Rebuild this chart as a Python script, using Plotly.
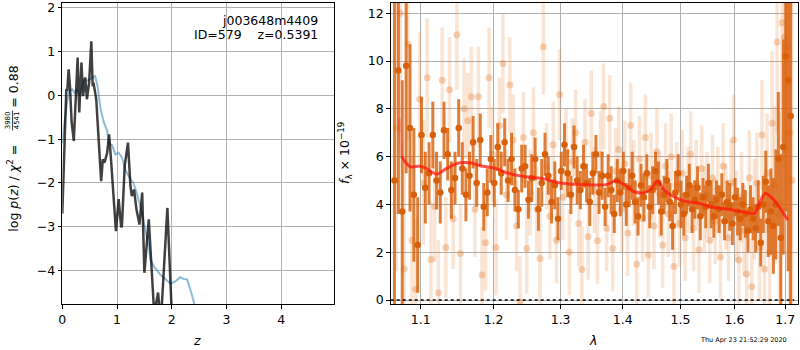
import plotly.graph_objects as go

# ---------------- Left panel: log p(z) ----------------
pz_z = [0.00, 0.02, 0.05, 0.073, 0.09, 0.116, 0.14, 0.17, 0.21, 0.24, 0.26, 0.28, 0.31, 0.35,
        0.38, 0.42, 0.45, 0.49, 0.53, 0.555, 0.57, 0.62, 0.665, 0.71, 0.74, 0.77, 0.82, 0.855,
        0.89, 0.94, 0.98, 1.03, 1.075, 1.09, 1.14, 1.20, 1.245, 1.27, 1.31, 1.355, 1.41, 1.46,
        1.50, 1.58, 1.64, 1.68, 1.75, 1.80, 1.92, 1.98, 2.05, 2.20]
pz_logp = [-2.7, -1.8, -0.3, 0.14, 0.10, 0.59, 0.20, -0.60, -1.04, -0.40, 0.30, 0.86, -0.39, 0.75,
           -0.02, 0.41, -0.09, 0.29, 1.23, 0.21, 0.29, -0.09, -1.08, -1.96, -1.46, -1.54, -1.31, -0.89,
           -1.46, -2.45, -3.10, -2.37, -3.01, -2.98, -1.61, -1.08, -2.07, -2.30, -2.15, -2.60, -2.95, -2.22,
           -4.05, -2.83, -4.35, -5.0, -4.5, -5.2, -2.57, -5.0, -6.5, -8.0]

pz_z_smooth = [0.0, 0.024, 0.085, 0.13, 0.18, 0.23, 0.27, 0.33, 0.39, 0.45, 0.51, 0.57, 0.60, 0.645,
               0.70, 0.76, 0.82, 0.855, 0.91, 0.97, 1.03, 1.09, 1.15, 1.245, 1.30, 1.34, 1.43, 1.52,
               1.58, 1.61, 1.67, 1.79, 1.92, 1.98, 2.07, 2.15, 2.22, 2.28, 2.34, 2.40, 2.50, 2.70]
pz_logp_smooth = [-1.1, -0.78, -0.17, 0.10, 0.14, 0.05, 0.14, -0.02, 0.36, 0.33, 0.37, 0.42, 0.44, 0.20,
                  -0.32, -0.62, -0.81, -1.10, -1.14, -1.35, -1.31, -1.42, -1.69, -1.92, -2.00, -2.15, -2.55, -3.10,
                  -3.44, -3.74, -3.90, -4.09, -4.24, -4.30, -4.24, -4.15, -4.19, -4.20, -4.43, -4.70, -5.30, -6.50]

left_xticks = [0, 1, 2, 3, 4]
left_yticks = [-4, -3, -2, -1, 0, 1, 2]

# ---------------- Right panel: spectrum ----------------
dark_lam = [1.066, 1.071, 1.076, 1.081, 1.086, 1.091, 1.096, 1.101, 1.106, 1.111,
            1.116, 1.121, 1.126, 1.131, 1.136, 1.141, 1.146, 1.151, 1.156, 1.161,
            1.166, 1.171, 1.176, 1.181, 1.186, 1.191, 1.196, 1.201, 1.206, 1.211,
            1.216, 1.221, 1.226, 1.231, 1.236, 1.241, 1.246, 1.251, 1.256, 1.261,
            1.266, 1.271, 1.276, 1.281, 1.286, 1.291, 1.296, 1.301, 1.306, 1.311,
            1.316, 1.321, 1.326, 1.331, 1.336, 1.341, 1.346, 1.351, 1.356, 1.361,
            1.366, 1.371, 1.376, 1.381, 1.386, 1.391, 1.396, 1.401, 1.406, 1.411,
            1.416, 1.421, 1.426, 1.431, 1.436, 1.441, 1.446, 1.451, 1.456, 1.461,
            1.466, 1.471, 1.476, 1.481, 1.486, 1.491, 1.496, 1.501, 1.506, 1.511,
            1.516, 1.521, 1.526, 1.531, 1.536, 1.541, 1.546, 1.551, 1.556, 1.561,
            1.566, 1.571, 1.576, 1.581, 1.586, 1.591, 1.596, 1.601, 1.606, 1.611,
            1.616, 1.621, 1.626, 1.631, 1.636, 1.641, 1.646, 1.651, 1.656, 1.661,
            1.666, 1.671, 1.676, 1.681, 1.686, 1.691, 1.696, 1.701, 1.706, 1.711]
dark_flux = [5.0, 9.6, 3.7, 9.8, 7.2, 4.4, 2.3, 6.9, 4.7, 5.3,
             6.9, 5.0, 4.5, 7.1, 6.1, 4.6, 5.1, 7.2, 5.5, 4.4,
             5.2, 6.6, 4.9, 6.7, 3.9, 4.5, 5.9, 4.9, 6.4, 5.3,
             6.6, 5.0, 5.9, 4.6, 3.8, 5.5, 5.6, 4.2, 5.1, 5.9,
             3.8, 4.9, 6.1, 5.2, 4.1, 4.8, 3.4, 5.4, 6.5, 5.3,
             4.4, 6.4, 5.0, 4.6, 5.6, 4.9, 4.1, 5.3, 6.1, 4.5,
             5.2, 3.9, 5.2, 4.6, 3.6, 5.0, 4.5, 5.4, 4.0, 4.7,
             5.2, 4.1, 3.5, 4.8, 4.3, 5.3, 3.9, 4.6, 5.4, 4.9,
             3.7, 4.4, 5.0, 4.1, 3.1, 4.5, 5.3, 4.0, 3.6, 4.4,
             4.8, 3.8, 4.2, 4.7, 3.5, 4.3, 3.9, 4.9, 4.0, 3.5,
             4.2, 3.8, 4.4, 3.3, 4.1, 3.9, 3.2, 4.3, 3.7, 3.4,
             4.0, 3.6, 2.9, 3.8, 3.4, 3.0, 3.9, 2.4, 4.0, 4.95,
             3.3, 3.7, 3.1, 4.0, 5.9, 2.6, 6.4, 10.2, 9.2, 7.7]
dark_err = [7.5, 6.0, 5.5, 4.5, 3.5, 2.8, 2.0, 1.6, 1.5, 1.3,
            1.4, 1.2, 1.3, 1.2, 1.1, 1.2, 1.1, 1.2, 1.1, 1.1,
            1.0, 1.1, 1.0, 1.1, 1.0, 1.0, 1.0, 1.0, 1.0, 0.9,
            1.0, 0.9, 1.1, 0.9, 0.8, 1.0, 0.9, 0.8, 1.0, 0.9,
            0.9, 1.0, 0.9, 0.8, 0.9, 1.0, 0.9, 0.8, 0.9, 1.0,
            0.8, 0.9, 1.0, 0.8, 0.9, 0.8, 1.0, 0.9, 0.8, 0.9,
            1.0, 0.8, 0.9, 1.0, 0.8, 0.9, 1.0, 0.8, 0.9, 0.8,
            1.0, 0.9, 0.8, 0.9, 1.0, 0.8, 0.9, 1.0, 0.8, 0.9,
            1.0, 0.8, 0.9, 0.8, 1.0, 0.9, 0.8, 1.0, 0.9, 0.8,
            0.9, 1.0, 0.8, 0.9, 1.0, 0.8, 0.9, 0.8, 1.0, 0.9,
            0.8, 1.0, 0.9, 0.8, 0.9, 1.0, 0.9, 0.8, 1.0, 0.9,
            0.9, 1.0, 0.9, 1.0, 0.9, 1.0, 1.1, 1.0, 1.2, 1.3,
            1.5, 1.8, 2.0, 2.3, 2.8, 3.5, 4.5, 6.5, 8.0, 9.5]

light_lam = [1.0685, 1.0735, 1.0785, 1.0835, 1.0885, 1.0935, 1.0985, 1.1035, 1.1085, 1.1135,
             1.1185, 1.1235, 1.1285, 1.1335, 1.1385, 1.1435, 1.1485, 1.1535, 1.1585, 1.1635,
             1.1685, 1.1735, 1.1785, 1.1835, 1.1885, 1.1935, 1.1985, 1.2035, 1.2085, 1.2135,
             1.2185, 1.2235, 1.2285, 1.2335, 1.2385, 1.2435, 1.2485, 1.2535, 1.2585, 1.2635,
             1.2685, 1.2735, 1.2785, 1.2835, 1.2885, 1.2935, 1.2985, 1.3035, 1.3085, 1.3135,
             1.3185, 1.3235, 1.3285, 1.3335, 1.3385, 1.3435, 1.3485, 1.3535, 1.3585, 1.3635,
             1.3685, 1.3735, 1.3785, 1.3835, 1.3885, 1.3935, 1.3985, 1.4035, 1.4085, 1.4135,
             1.4185, 1.4235, 1.4285, 1.4335, 1.4385, 1.4435, 1.4485, 1.4535, 1.4585, 1.4635,
             1.4685, 1.4735, 1.4785, 1.4835, 1.4885, 1.4935, 1.4985, 1.5035, 1.5085, 1.5135,
             1.5185, 1.5235, 1.5285, 1.5335, 1.5385, 1.5435, 1.5485, 1.5535, 1.5585, 1.5635,
             1.5685, 1.5735, 1.5785, 1.5835, 1.5885, 1.5935, 1.5985, 1.6035, 1.6085, 1.6135,
             1.6185, 1.6235, 1.6285, 1.6335, 1.6385, 1.6435, 1.6485, 1.6535, 1.6585, 1.6635,
             1.6685, 1.6735, 1.6785, 1.6835, 1.6885, 1.6935, 1.6985, 1.7035, 1.7085, 1.7135]
light_flux = [7.2, 12.0, 1.3, 10.7, 2.5, 0.45, 8.4, 4.9, 9.3, 1.7,
              3.9, 0.3, 9.2, 2.2, 8.8, 3.4, 11.1, 1.95, 8.0, 7.5,
              8.5, 3.8, 8.5, 1.05, 2.4, 9.3, 6.1, 2.2, 7.3, 9.9,
              4.4, 9.0, 6.7, 3.1, -0.07, 6.8, 2.16, 4.5, 7.0, 3.8,
              1.74, 10.6, 5.6, 3.5, 6.5, 2.5, 8.6, 4.3, 6.2, 2.0,
              5.8, 7.0, 3.2, 1.28, 6.6, 2.65, 7.8, 4.6, 2.48, 6.1,
              8.1, 3.0, 7.6, 2.16, 5.4, 6.3, 3.8, 5.7, 2.8, 7.3,
              4.9, 1.5, 5.9, 3.4, 6.8, 1.88, 5.2, 3.1, 6.2, 4.4,
              2.3, 5.6, 3.6, 6.0, 1.4, 4.8, 3.2, 5.3, 2.6, 4.6,
              6.1, 3.0, 4.9, 2.1, 5.5, 3.8, 4.4, 2.5, 5.1, 3.3,
              4.6, 1.8, 5.6, 3.9, 2.6, 4.9, 6.69, 3.5, 1.67, 4.3,
              2.9, 1.09, 5.1, 0.56, 3.8, 4.9, 2.2, 6.9, 1.3, 5.3,
              2.0, 7.4, 4.8, 10.8, 3.6, 11.6, 11.0, 10.6, 7.0, 5.0]
light_err = [6.0, 5.0, 4.5, 4.0, 3.5, 3.0, 2.8, 2.6, 2.5, 2.4,
             2.3, 2.2, 2.2, 2.1, 2.2, 2.1, 2.3, 2.1, 2.1, 2.0,
             2.1, 2.0, 2.1, 2.0, 2.0, 2.1, 2.0, 2.0, 2.0, 2.1,
             1.9, 2.0, 1.9, 1.9, 1.9, 1.9, 1.9, 1.8, 1.9, 1.8,
             1.9, 2.0, 1.8, 1.8, 1.8, 1.8, 1.9, 1.8, 1.8, 1.8,
             1.8, 1.8, 1.8, 1.8, 1.8, 1.8, 1.8, 1.8, 1.8, 1.8,
             1.8, 1.8, 1.8, 1.8, 1.8, 1.8, 1.8, 1.8, 1.8, 1.8,
             1.8, 1.8, 1.8, 1.8, 1.8, 1.8, 1.8, 1.8, 1.8, 1.8,
             1.8, 1.8, 1.8, 1.8, 1.8, 1.8, 1.8, 1.8, 1.8, 1.8,
             1.8, 1.8, 1.8, 1.8, 1.8, 1.8, 1.8, 1.8, 1.8, 1.8,
             1.8, 1.8, 1.8, 1.8, 1.8, 1.8, 1.9, 1.9, 1.9, 1.9,
             1.9, 2.0, 2.0, 2.0, 2.1, 2.1, 2.2, 2.3, 2.4, 2.5,
             2.7, 3.0, 3.3, 3.8, 4.3, 5.0, 5.5, 6.5, 7.5, 8.5]

model_lam = [1.0722, 1.0752, 1.0860, 1.0992, 1.1079, 1.1212, 1.1347, 1.1529, 1.1668, 1.1808,
             1.2021, 1.2218, 1.2463, 1.2715, 1.2971, 1.3232, 1.3578, 1.3747, 1.3885, 1.4036,
             1.4192, 1.4363, 1.4478, 1.4593, 1.4710, 1.4887, 1.5066, 1.5338, 1.5528, 1.5905,
             1.6161, 1.6387, 1.6485, 1.6603, 1.6717, 1.6851, 1.7053]
model_flux = [7.6, 6.0, 5.58, 5.6, 5.5, 5.27, 5.51, 5.74, 5.74, 5.62,
              5.51, 5.30, 5.16, 5.09, 4.91, 4.84, 4.81, 4.84, 4.99, 4.81,
              4.53, 4.49, 4.62, 4.98, 4.60, 4.32, 4.14, 4.05, 3.90, 3.79,
              3.69, 3.63, 4.05, 4.46, 4.30, 3.97, 3.35]

right_xticks = [1.1, 1.2, 1.3, 1.4, 1.5, 1.6, 1.7]
right_xticktext = ["1.1", "1.2", "1.3", "1.4", "1.5", "1.6", "1.7"]
right_yticks = [0, 2, 4, 6, 8, 10, 12]

W, H = 800, 350
def px(x):
    return x / W
def py(y):
    return 1 - y / H

FONT = "DejaVu Sans"
GRID = "#b0b0b0"

fig = go.Figure()

# left panel traces
fig.add_trace(go.Scatter(x=pz_z_smooth, y=pz_logp_smooth, mode="lines",
                         line=dict(color="rgba(31,119,180,0.5)", width=2),
                         xaxis="x", yaxis="y", showlegend=False))
fig.add_trace(go.Scatter(x=pz_z, y=pz_logp, mode="lines",
                         line=dict(color="rgba(0,0,0,0.75)", width=2.5),
                         xaxis="x", yaxis="y", showlegend=False))

# right panel traces
fig.add_trace(go.Scatter(x=light_lam, y=light_flux, mode="markers",
                         marker=dict(color="rgba(228,120,40,0.32)", size=7, line=dict(width=0)),
                         error_y=dict(type="data", array=light_err, color="rgba(232,130,60,0.22)",
                                      thickness=3.5, width=0),
                         xaxis="x2", yaxis="y2", showlegend=False))
fig.add_trace(go.Scatter(x=dark_lam, y=dark_flux, mode="markers",
                         marker=dict(color="#d8600a", size=6.5, line=dict(width=0)),
                         error_y=dict(type="data", array=dark_err, color="rgba(216,98,12,0.82)",
                                      thickness=3, width=0),
                         xaxis="x2", yaxis="y2", showlegend=False))
fig.add_trace(go.Scatter(x=model_lam[:2], y=model_flux[:2], mode="lines",
                         line=dict(color="rgba(255,0,0,0.22)", width=3),
                         xaxis="x2", yaxis="y2", showlegend=False))
fig.add_trace(go.Scatter(x=model_lam[1:], y=model_flux[1:], mode="lines",
                         line=dict(color="rgba(255,20,10,0.72)", width=3, shape="spline"),
                         xaxis="x2", yaxis="y2", showlegend=False))

fig.add_shape(type="line", xref="x2 domain", yref="y2", x0=0.0, x1=0.99, y0=0, y1=0,
              line=dict(color="black", width=1.6, dash="dot"))

axis_common = dict(showline=True, linecolor="black", linewidth=1, mirror=True,
                   ticks="outside", ticklen=3.5, tickwidth=1, tickcolor="black",
                   showgrid=True, gridcolor=GRID, gridwidth=1, zeroline=False,
                   automargin=False,
                   tickfont=dict(family=FONT, size=12.5, color="black"))

fig.update_layout(
    width=W, height=H, margin=dict(l=0, r=0, t=0, b=0, autoexpand=False),
    paper_bgcolor="white", plot_bgcolor="white",
    xaxis=dict(domain=[px(62.3), px(334.3)], range=[0, 4.97], anchor="y",
               tickmode="array", tickvals=left_xticks, **axis_common),
    yaxis=dict(domain=[py(304), py(2.7)], range=[-4.762, 2.113], anchor="x",
               tickmode="array", tickvals=left_yticks, **axis_common),
    xaxis2=dict(domain=[px(390.7), px(798.3)], type="log", range=[0.02582, 0.23722], anchor="y2",
                tickmode="array", tickvals=right_xticks, ticktext=right_xticktext, **axis_common),
    yaxis2=dict(domain=[py(304), py(2.7)], range=[-0.167, 12.44], anchor="x2",
                tickmode="array", tickvals=right_yticks, **axis_common),
)

ann = []
def add_text(text, x, y, size=12.5, angle=0, xanchor="center", yanchor="middle", color="black"):
    ann.append(dict(text=text, x=px(x), y=py(y), xref="paper", yref="paper", showarrow=False,
                    textangle=angle, xanchor=xanchor, yanchor=yanchor,
                    font=dict(family=FONT, size=size, color=color)))

# panel texts
add_text("j003648m4409", 320, 20, xanchor="right")
add_text("ID=579\u00a0\u00a0\u00a0\u00a0z=0.5391", 320, 34.5, xanchor="right")
# axis labels
add_text("<i>z</i>", 197, 340)
add_text("<i>λ</i>", 593, 340)
add_text("<i>f</i><sub>λ</sub> × 10<sup>−19</sup>", 345, 153, angle=-90)
# left y label with stacked fraction
add_text("log <i>p</i>(<i>z</i>) / <i>χ</i><sup>2</sup> =", 12.7, 188, angle=-90)
add_text("3980<br>4541", 12.8, 120.5, size=7, angle=-90)
add_text("= 0.88", 12.7, 87, angle=-90)
# timestamp
add_text("Thu Apr 23 21:52:29 2020", 743, 339.5, size=6.5)

fig.update_layout(annotations=ann)
fig.add_shape(type="line", xref="paper", yref="paper", x0=px(12.6), x1=px(12.6),
              y0=py(110.5), y1=py(130.5), line=dict(color="black", width=0.8))

fig.write_html("out.html", config={"displayModeBar": False},
               post_script="document.body.style.margin='0px';document.body.style.overflow='hidden';")
